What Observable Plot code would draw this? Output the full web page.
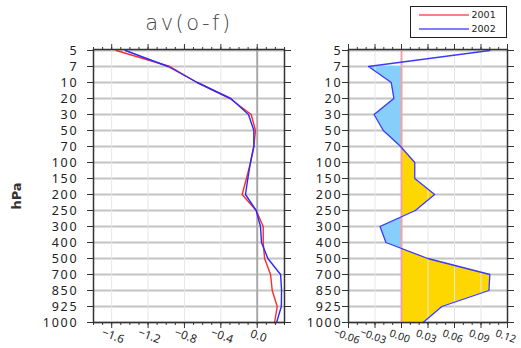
<!DOCTYPE html>
<html>
<head>
<meta charset="utf-8">
<script src="https://cdn.jsdelivr.net/npm/d3@7"></script>
<script src="https://cdn.jsdelivr.net/npm/@observablehq/plot@0.6"></script>
<style>
  html, body { margin: 0; padding: 0; background: #fff; }
  #wrap { position: relative; width: 521px; height: 348px; overflow: hidden; font-family: "DejaVu Sans", sans-serif; }
  #wrap svg.plot { position: absolute; left: 0; top: 0; background: transparent; }
  #title { position: absolute; left: 0; top: 0; }
  .ylab text { letter-spacing: 1.8px; }
</style>
</head>
<body>
<div id="wrap"></div>
<script>
// ---- data ----
const levels = ["5","7","10","20","30","50","70","100","150","200","250","300","400","500","700","850","925","1000"];
const av2001 = [-1.55,-0.96,-0.66,-0.30,-0.066,-0.019,-0.037,-0.074,-0.118,-0.166,-0.011,0.066,0.066,0.081,0.147,0.165,0.220,0.191];
const av2002 = [-1.45,-0.98,-0.66,-0.29,-0.096,-0.037,-0.037,-0.074,-0.103,-0.129,-0.011,0.036,0.047,0.117,0.257,0.268,0.265,0.213];
const diff   = [0.100,-0.0374,-0.0116,-0.0086,-0.031,-0.0206,-0.001,0.015,0.015,0.0375,0.0157,-0.0243,-0.0176,0.0296,0.100,0.099,0.0457,0.0244];
const leftTicks  = [-1.6,-1.2,-0.8,-0.4,0.0];
const rightTicks = [-0.06,-0.03,0.00,0.03,0.06,0.09,0.12];
const seriesNames = ["2001","2002"];
const seriesColors = ["#ff2a2a","#2a2aff"];

const rows = levels.map((l,i) => ({level:l, a:av2001[i], b:av2002[i], d:diff[i]}));
const fillRows = rows.slice(1);

const W = 521, H = 348, TOP = 49, BOTTOM = 26;
const frameColor = "#333";
const gridH = "#c4c4c4";
const gridV = "#e6e6e6";
const noText = () => "";

function commonY() {
  return {type: "point", domain: levels, padding: 0, axis: null};
}
function ticksY(anchor) {
  return Plot.axisY({anchor, tickSize: 6, tickFormat: noText, stroke: frameColor, label: null});
}
function ticksX(data, anchor, size) {
  return Plot.axisX(data, {anchor, tickSize: size, tickFormat: noText, stroke: frameColor, label: null});
}

// ---- left panel ----
const leftMinor = d3.range(0, 22).map(i => +(-1.8 + i*0.1).toFixed(2));
const left = Plot.plot({
  width: W, height: H,
  marginLeft: 93, marginRight: W - 284, marginTop: TOP, marginBottom: BOTTOM,
  style: {background: "transparent", overflow: "visible"},
  x: {domain: [-1.8, 0.3], axis: null},
  y: commonY(),
  marks: [
    Plot.ruleY(levels, {stroke: gridH, strokeWidth: 1.8}),
    Plot.ruleX(leftTicks.filter(d => d !== 0), {stroke: gridV, strokeWidth: 1}),
    Plot.ruleX([0], {stroke: "#a8a8a8", strokeWidth: 2}),
    Plot.lineX(rows, {x: "a", y: "level", stroke: seriesColors[0], strokeWidth: 1.4}),
    Plot.lineX(rows, {x: "b", y: "level", stroke: seriesColors[1], strokeWidth: 1.4}),
    Plot.frame({stroke: frameColor, strokeWidth: 1.5}),
    ticksY("left"), ticksY("right"),
    ticksX(leftMinor, "top", 3), ticksX(leftMinor, "bottom", 3),
    ticksX(leftTicks, "top", 6), ticksX(leftTicks, "bottom", 6),
    Plot.text(levels, {y: d => d, frameAnchor: "left", dx: -15, textAnchor: "end", text: d => d, fontSize: 12.5, fill: "#222", className: "ylab"}),
    Plot.text(leftTicks, {x: d => d, frameAnchor: "bottom", dy: 17, rotate: 20, textAnchor: "middle", text: d => d3.format(".1f")(d), fontSize: 11.5, fill: "#222"})
  ]
});
left.classList.add("plot");

// ---- right panel ----
const rightMinor = d3.range(0, 19).map(i => +(-0.06 + i*0.01).toFixed(3));
const right = Plot.plot({
  width: W, height: H,
  marginLeft: 348, marginRight: W - 507, marginTop: TOP, marginBottom: BOTTOM,
  style: {background: "transparent", overflow: "visible"},
  x: {domain: [-0.06, 0.12], axis: null},
  y: commonY(),
  marks: [
    Plot.ruleY(levels, {stroke: gridH, strokeWidth: 1.8}),
    Plot.areaX(fillRows, {x1: 0, x2: "d", y: "level", fill: "#87cefa"}),
    Plot.areaX(fillRows, {x1: 0, x2: "d", y: "level", fill: "#ffd700"}),
    Plot.ruleX(rightTicks.filter(d => d !== 0 && d > -0.06 && d < 0.12), {stroke: gridV, strokeWidth: 1}),
    Plot.ruleX([0], {stroke: "#f4a3a3", strokeWidth: 2}),
    Plot.lineX(rows, {x: "d", y: "level", stroke: "#3a3aff", strokeWidth: 1.3}),
    Plot.frame({stroke: frameColor, strokeWidth: 1.5}),
    ticksY("left"), ticksY("right"),
    ticksX(rightMinor, "top", 3), ticksX(rightMinor, "bottom", 3),
    ticksX(rightTicks, "top", 6), ticksX(rightTicks, "bottom", 6),
    Plot.text(levels, {y: d => d, frameAnchor: "left", dx: -6, textAnchor: "end", text: d => d, fontSize: 12.5, fill: "#222", className: "ylab"}),
    Plot.text(rightTicks, {x: d => d, frameAnchor: "bottom", dx: -3, dy: 17, rotate: 20, textAnchor: "middle", text: d => d3.format(".2f")(d), fontSize: 10.5, fill: "#222"})
  ]
});
right.classList.add("plot");

// clip the positive fill to the right of zero
(function () {
  const sx = right.scale("x");
  const x0 = sx.apply(0);
  const svg = d3.select(right);
  const id = "posclip";
  svg.insert("defs", ":first-child").append("clipPath").attr("id", id)
    .append("rect").attr("x", x0).attr("y", 0).attr("width", W - x0).attr("height", H);
  svg.selectAll('[fill="#ffd700"]').attr("clip-path", `url(#${id})`);
})();

const wrap = document.getElementById("wrap");
wrap.appendChild(left);
wrap.appendChild(right);

// ---- title, axis label, legend ----
const ov = d3.select(wrap).append("svg").attr("id", "title").attr("width", W).attr("height", H);
ov.append("text").attr("x", 189).attr("y", 30).attr("text-anchor", "middle")
  .attr("font-size", 21).attr("font-weight", 200).attr("letter-spacing", 2.5).attr("fill", "#444")
  .text("av(o-f)");
ov.append("text").attr("transform", "translate(21,196) rotate(-90)").attr("text-anchor", "middle")
  .attr("font-size", 13).attr("font-weight", 600).attr("fill", "#333").text("hPa");
const lg = ov.append("g");
lg.append("rect").attr("x", 410.5).attr("y", 6.5).attr("width", 96).attr("height", 31)
  .attr("fill", "#fff").attr("stroke", "#222").attr("stroke-width", 1);
seriesNames.forEach((n, i) => {
  const yy = 15 + i * 14;
  lg.append("line").attr("x1", 419).attr("x2", 469).attr("y1", yy).attr("y2", yy)
    .attr("stroke", seriesColors[i]).attr("stroke-width", 1.3).attr("opacity", 0.8);
  lg.append("text").attr("x", 471.5).attr("y", yy + 3.3).attr("font-size", 9.5).attr("fill", "#222").text(n);
});
</script>
</body>
</html>
